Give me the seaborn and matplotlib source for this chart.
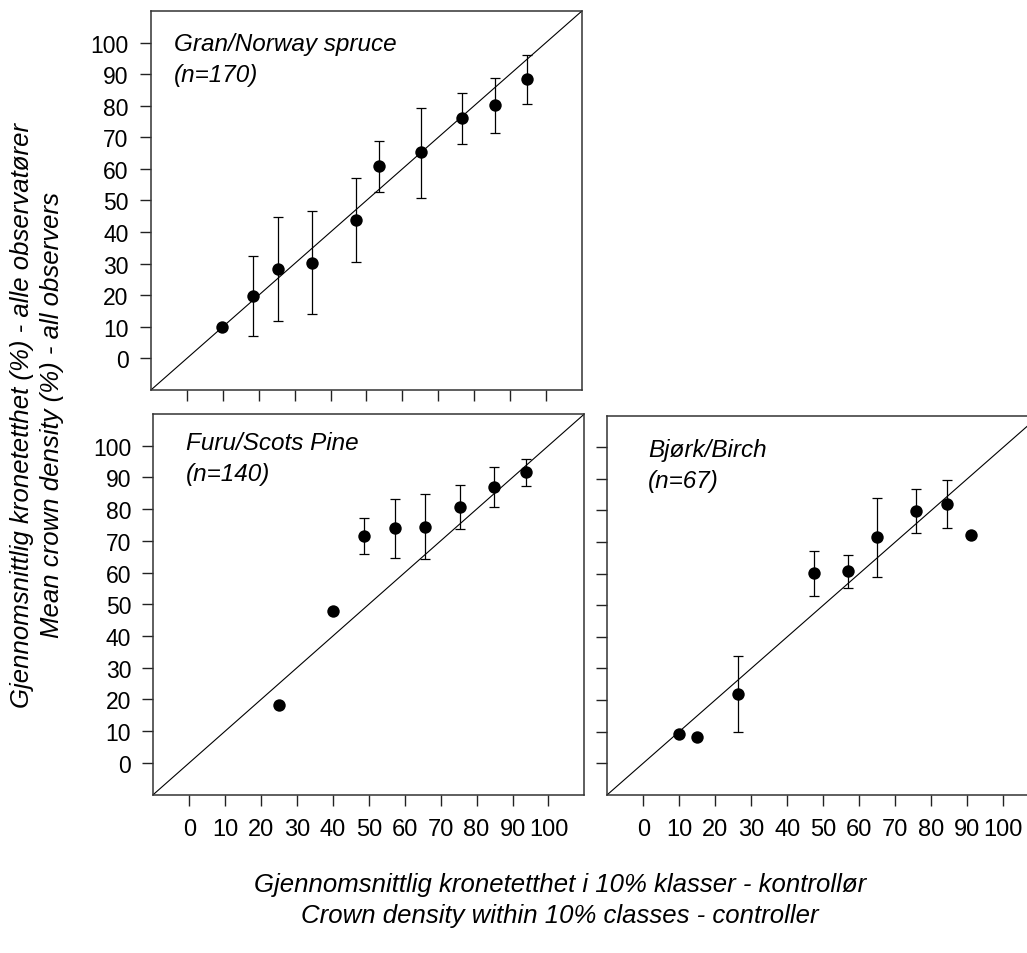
import numpy as np
import pandas as pd
import seaborn as sns
import matplotlib
matplotlib.use("Agg")
import matplotlib.pyplot as plt

# values
spruce_x = [9.9, 18.5, 25.3, 34.7, 47.1, 53.4, 65.3, 76.6, 85.8, 94.6]
spruce_y = [10.0, 19.7, 28.4, 30.3, 43.8, 60.9, 65.2, 76.1, 80.2, 88.4]
spruce_lo = [np.nan, 7.0, 11.8, 13.9, 30.5, 52.8, 50.8, 68.0, 71.4, 80.5]
spruce_hi = [np.nan, 32.3, 44.6, 46.5, 57.0, 68.8, 79.4, 84.1, 88.7, 96.1]

pine_x = [24.9, 39.9, 48.6, 57.3, 65.7, 75.4, 84.8, 93.7]
pine_y = [18.1, 47.9, 71.5, 74.1, 74.5, 80.7, 87.1, 91.7]
pine_lo = [np.nan, np.nan, 66.0, 64.5, 64.2, 73.8, 80.7, 87.3]
pine_hi = [np.nan, np.nan, 77.1, 83.1, 84.7, 87.5, 93.3, 95.9]

birch_x = [9.9, 14.9, 26.3, 47.5, 56.9, 64.8, 75.7, 84.3, 91.0]
birch_y = [9.1, 8.3, 21.9, 60.2, 60.7, 71.5, 79.8, 82.2, 72.1]
birch_lo = [np.nan, np.nan, 9.9, 53.0, 55.6, 58.9, 72.8, 74.5, np.nan]
birch_hi = [np.nan, np.nan, 33.8, 67.1, 65.8, 83.8, 86.7, 89.7, np.nan]

ticks = [0, 10, 20, 30, 40, 50, 60, 70, 80, 90, 100]
tick_labels = ["0", "10", "20", "30", "40", "50", "60", "70", "80", "90", "100"]

sns.set_style("white")
plt.rcParams["font.family"] = ["Liberation Sans", "DejaVu Sans"]
plt.rcParams["text.color"] = "black"
plt.rcParams["xtick.color"] = "black"
plt.rcParams["ytick.color"] = "black"

fig = plt.figure(figsize=(10.27, 9.54), dpi=100)
ax1 = fig.add_axes([0.1470, 0.5902, 0.4197, 0.3973])
ax2 = fig.add_axes([0.1493, 0.1661, 0.4197, 0.3989])
ax3 = fig.add_axes([0.5913, 0.1659, 0.4206, 0.3973])

panels = [
    (ax1, spruce_x, spruce_y, spruce_lo, spruce_hi, "Gran/Norway spruce\n(n=170)", (0.053, 0.945)),
    (ax2, pine_x, pine_y, pine_lo, pine_hi, "Furu/Scots Pine\n(n=140)", (0.076, 0.955)),
    (ax3, birch_x, birch_y, birch_lo, birch_hi, "Bjørk/Birch\n(n=67)", (0.095, 0.941)),
]

for ax, x, y, lo, hi, name, pos in panels:
    df = pd.DataFrame({"x": x, "y": y, "lo": lo, "hi": hi})
    ax.plot([-10, 110], [-10, 110], color="black", lw=0.8, zorder=1)
    err = df.dropna()
    ax.errorbar(err["x"], err["y"],
                yerr=[err["y"] - err["lo"], err["hi"] - err["y"]],
                fmt="none", ecolor="black", elinewidth=0.9, capsize=3.5,
                capthick=0.9, zorder=2)
    sns.scatterplot(data=df, x="x", y="y", color="black", s=80,
                    edgecolor="black", linewidth=0, ax=ax, zorder=3)
    ax.set_xlim(-10, 110)
    ax.set_ylim(-10, 110)
    ax.set_xticks(ticks)
    ax.set_yticks(ticks)
    ax.set_xlabel("")
    ax.set_ylabel("")
    ax.text(pos[0], pos[1], name, transform=ax.transAxes, ha="left", va="top",
            fontsize=17.5, style="italic", linespacing=1.45)
    for s in ax.spines.values():
        s.set_color("#333333")
        s.set_linewidth(1.1)
    ax.tick_params(axis="both", direction="out", length=8, width=1.0,
                   color="#222222", bottom=True, left=True)
    ax.tick_params(axis="x", labelsize=17, pad=9)
    ax.tick_params(axis="y", labelsize=16.5, pad=8)

ax1.set_yticklabels(tick_labels)
ax1.set_xticklabels([])
ax2.set_yticklabels(tick_labels)
ax2.set_xticklabels(tick_labels)
ax3.set_yticklabels([])
ax3.set_xticklabels(tick_labels)

fig.text(0.036, 0.565,
         "Gjennomsnittlig kronetetthet (%) - alle observatører\nMean crown density (%) - all observers",
         rotation=90, ha="center", va="center", fontsize=18.5, style="italic",
         linespacing=1.35)
fig.text(0.545, 0.056,
         "Gjennomsnittlig kronetetthet i 10% klasser - kontrollør\nCrown density within 10% classes - controller",
         ha="center", va="center", fontsize=18.5, style="italic", linespacing=1.4)

fig.savefig("out.png", dpi=100)
